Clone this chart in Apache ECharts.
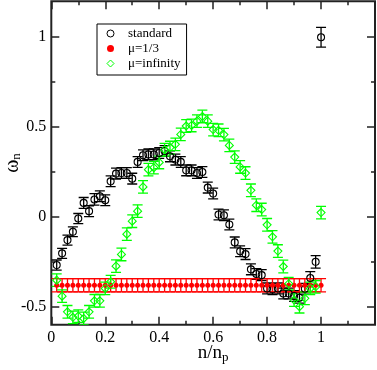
<!DOCTYPE html>
<html>
<head>
<meta charset="utf-8">
<script src="https://cdn.jsdelivr.net/npm/echarts@6/dist/echarts.min.js"></script>
<style>
html,body{margin:0;padding:0;background:#fff;}
#c{width:377px;height:370px;}
</style>
</head>
<body>
<div id="c"></div>
<script>
// ---- data ----
const xValues = [0.02,0.04,0.06,0.08,0.10,0.12,0.14,0.16,0.18,0.20,
  0.22,0.24,0.26,0.28,0.30,0.32,0.34,0.36,0.38,0.40,
  0.42,0.44,0.46,0.48,0.50,0.52,0.54,0.56,0.58,0.60,
  0.62,0.64,0.66,0.68,0.70,0.72,0.74,0.76,0.78,0.80,
  0.82,0.84,0.86,0.88,0.90,0.92,0.94,0.96,0.98,1.00];

const standardY = [-0.268,-0.203,-0.129,-0.083,-0.009,0.078,0.032,0.097,0.115,0.093,
  0.198,0.241,0.244,0.244,0.213,0.306,0.343,0.348,0.348,0.356,
  0.367,0.337,0.319,0.306,0.259,0.259,0.244,0.250,0.163,0.130,
  0.013,0.009,-0.042,-0.142,-0.191,-0.207,-0.292,-0.318,-0.324,-0.398,
  -0.403,-0.398,-0.426,-0.426,-0.440,-0.450,-0.400,-0.340,-0.250,1.000];
const standardErr = [0.028,0.028,0.028,0.027,0.028,0.030,0.030,0.032,0.030,0.030,
  0.030,0.030,0.030,0.030,0.030,0.030,0.030,0.030,0.030,0.030,
  0.030,0.030,0.030,0.030,0.030,0.030,0.030,0.030,0.030,0.030,
  0.030,0.030,0.030,0.030,0.030,0.030,0.030,0.030,0.030,0.030,
  0.030,0.030,0.030,0.030,0.030,0.030,0.030,0.035,0.035,0.055];

const mu13Y = [-0.38,-0.38,-0.38,-0.38,-0.38,-0.38,-0.38,-0.38,-0.38,-0.38,
  -0.38,-0.38,-0.38,-0.38,-0.38,-0.38,-0.38,-0.38,-0.38,-0.38,
  -0.38,-0.38,-0.38,-0.38,-0.38,-0.38,-0.38,-0.38,-0.38,-0.38,
  -0.38,-0.38,-0.38,-0.38,-0.38,-0.38,-0.38,-0.38,-0.38,-0.38,
  -0.38,-0.38,-0.38,-0.38,-0.38,-0.38,-0.38,-0.38,-0.38,-0.38];
const mu13Err = [0.037,0.037,0.037,0.037,0.037,0.037,0.037,0.037,0.037,0.037,
  0.037,0.037,0.037,0.037,0.037,0.037,0.037,0.037,0.037,0.037,
  0.037,0.037,0.037,0.037,0.037,0.037,0.037,0.037,0.037,0.037,
  0.037,0.037,0.037,0.037,0.037,0.037,0.037,0.037,0.037,0.037,
  0.037,0.037,0.037,0.037,0.037,0.037,0.037,0.037,0.037,0.037];

const muInfY = [-0.352,-0.441,-0.528,-0.559,-0.552,-0.565,-0.528,-0.467,-0.467,-0.398,
  -0.361,-0.274,-0.209,-0.096,-0.024,0.032,0.167,0.263,0.274,0.303,
  0.374,0.386,0.404,0.459,0.506,0.509,0.533,0.559,0.533,0.486,
  0.482,0.458,0.398,0.333,0.278,0.244,0.148,0.065,0.041,-0.044,
  -0.111,-0.190,-0.276,-0.372,-0.463,-0.500,-0.453,-0.398,-0.389,0.024];
const muInfErr = [0.035,0.035,0.035,0.035,0.035,0.035,0.035,0.035,0.035,0.035,
  0.035,0.035,0.035,0.035,0.035,0.035,0.035,0.035,0.035,0.035,
  0.035,0.035,0.035,0.035,0.035,0.035,0.035,0.035,0.035,0.035,
  0.035,0.035,0.035,0.035,0.035,0.035,0.035,0.035,0.035,0.035,
  0.035,0.035,0.035,0.035,0.035,0.035,0.035,0.035,0.035,0.035];

const xTickLabels = [0, 0.2, 0.4, 0.6, 0.8, 1];
const yTickValues = [-0.5, 0, 0.5, 1];
const yMinorTickValues = [-0.25, 0.25, 0.75];

const seriesNames = ['standard', 'μ=1/3', 'μ=infinity'];

// ---- build ----
function triples(ys, errs) { return xValues.map((x, i) => [x, ys[i], errs[i]]); }
function pairs(ys) { return xValues.map((x, i) => [x, ys[i]]); }

function errRender(color, cap, lw) {
  return function (params, api) {
    const x = api.value(0), y = api.value(1), e = api.value(2);
    const hi = api.coord([x, y + e]);
    const lo = api.coord([x, y - e]);
    const h = cap / 2;
    const style = { stroke: color, lineWidth: lw, fill: null };
    return {
      type: 'group',
      children: [
        { type: 'line', shape: { x1: hi[0], y1: hi[1], x2: lo[0], y2: lo[1] }, style: style },
        { type: 'line', shape: { x1: hi[0] - h, y1: hi[1], x2: hi[0] + h, y2: hi[1] }, style: style },
        { type: 'line', shape: { x1: lo[0] - h, y1: lo[1], x2: lo[0] + h, y2: lo[1] }, style: style }
      ]
    };
  };
}

const FONT = 'Liberation Serif';
const tickStyle = { color: '#222', width: 1.5 };
const plainNum = v => String(+v.toFixed(2));

const yBase = {
  type: 'value', min: -0.6, max: 1.2,
  axisLine: { show: false, onZero: false },
  splitLine: { show: false },
};

const option = {
  animation: false,
  backgroundColor: '#fff',
  grid: {
    left: 51.3, right: 2, top: 1.3, bottom: 45.3,
    containLabel: false, outerBoundsMode: 'none',
    show: true, borderColor: '#222', borderWidth: 2, backgroundColor: 'transparent'
  },
  legend: {
    orient: 'vertical', left: 97, top: 24,
    padding: [2, 6, 4, 9.5],
    itemGap: 0, itemWidth: 7, itemHeight: 7,
    borderColor: '#000', borderWidth: 1, backgroundColor: '#fff',
    textStyle: { fontFamily: FONT, fontSize: 13, color: '#000', lineHeight: 15, padding: [0, 0, 0, 9] },
    data: [
      { name: seriesNames[0], icon: 'circle', itemStyle: { color: 'transparent', borderColor: '#000', borderWidth: 1 } },
      { name: seriesNames[1], icon: 'circle', itemStyle: { color: '#ff0000', borderWidth: 0 } },
      { name: seriesNames[2], icon: 'diamond', itemStyle: { color: 'transparent', borderColor: '#00ff00', borderWidth: 1 } }
    ]
  },
  xAxis: [
    {
      type: 'value', min: 0, max: 1.2, interval: 0.2, position: 'bottom',
      axisLine: { show: false, onZero: false },
      splitLine: { show: false },
      axisTick: { inside: true, length: 8, lineStyle: tickStyle },
      minorTick: { show: true, splitNumber: 2, length: 4, lineStyle: tickStyle },
      axisLabel: {
        fontFamily: FONT, fontSize: 16, color: '#000', margin: 5,
        customValues: xTickLabels, formatter: plainNum
      },
      name: '{a|n/n}{b|p}', nameLocation: 'middle', nameGap: 17, nameMoveOverlap: false,
      nameTextStyle: {
        color: '#000',
        rich: {
          a: { fontFamily: FONT, fontSize: 19, color: '#000' },
          b: { fontFamily: FONT, fontSize: 13, color: '#000', padding: [9, 0, 0, 0] }
        }
      }
    },
    {
      type: 'value', min: 0, max: 1.2, interval: 0.2, position: 'top',
      axisLine: { show: false, onZero: false },
      splitLine: { show: false },
      axisTick: { inside: true, length: 8, lineStyle: tickStyle },
      minorTick: { show: true, splitNumber: 2, length: 4, lineStyle: tickStyle },
      axisLabel: { show: false }
    }
  ],
  yAxis: [
    Object.assign({}, yBase, {
      position: 'left',
      axisTick: { inside: true, length: 8, lineStyle: tickStyle, customValues: yTickValues },
      axisLabel: { fontFamily: FONT, fontSize: 16, color: '#000', margin: 5, customValues: yTickValues, formatter: plainNum },
      name: '{a|ω}{b|n}', nameLocation: 'middle', nameRotate: 90, nameGap: 28, nameMoveOverlap: false,
      nameTextStyle: {
        color: '#000',
        rich: {
          a: { fontFamily: FONT, fontSize: 20, color: '#000' },
          b: { fontFamily: FONT, fontSize: 13, color: '#000', padding: [9, 0, 0, 0] }
        }
      }
    }),
    Object.assign({}, yBase, {
      position: 'left',
      axisTick: { inside: true, length: 4, lineStyle: tickStyle, customValues: yMinorTickValues },
      axisLabel: { show: false }
    }),
    Object.assign({}, yBase, {
      position: 'right',
      axisTick: { inside: true, length: 8, lineStyle: tickStyle, customValues: yTickValues },
      axisLabel: { show: false }
    }),
    Object.assign({}, yBase, {
      position: 'right',
      axisTick: { inside: true, length: 4, lineStyle: tickStyle, customValues: yMinorTickValues },
      axisLabel: { show: false }
    })
  ],
  series: [
    { type: 'custom', name: 'standard-err', silent: true, renderItem: errRender('#000', 10, 1.3),
      encode: { x: 0, y: 1 }, data: triples(standardY, standardErr), clip: true },
    { type: 'scatter', name: seriesNames[0], symbol: 'circle', symbolSize: 7,
      itemStyle: { color: 'transparent', borderColor: '#000', borderWidth: 1.1, opacity: 1 },
      data: pairs(standardY) },
    { type: 'custom', name: 'mu13-err', silent: true, renderItem: errRender('#ff0000', 10, 1.3),
      encode: { x: 0, y: 1 }, data: triples(mu13Y, mu13Err), clip: true },
    { type: 'scatter', name: seriesNames[1], symbol: 'circle', symbolSize: 5,
      itemStyle: { color: '#ff0000', opacity: 1 },
      data: pairs(mu13Y) },
    { type: 'custom', name: 'muinf-err', silent: true, renderItem: errRender('#00ff00', 10, 1.3),
      encode: { x: 0, y: 1 }, data: triples(muInfY, muInfErr), clip: true },
    { type: 'scatter', name: seriesNames[2], symbol: 'diamond', symbolSize: 8,
      itemStyle: { color: 'transparent', borderColor: '#00ff00', borderWidth: 1.1, opacity: 1 },
      data: pairs(muInfY) }
  ]
};

const chart = echarts.init(document.getElementById('c'), null, { renderer: 'canvas' });
chart.setOption(option);
</script>
</body>
</html>
